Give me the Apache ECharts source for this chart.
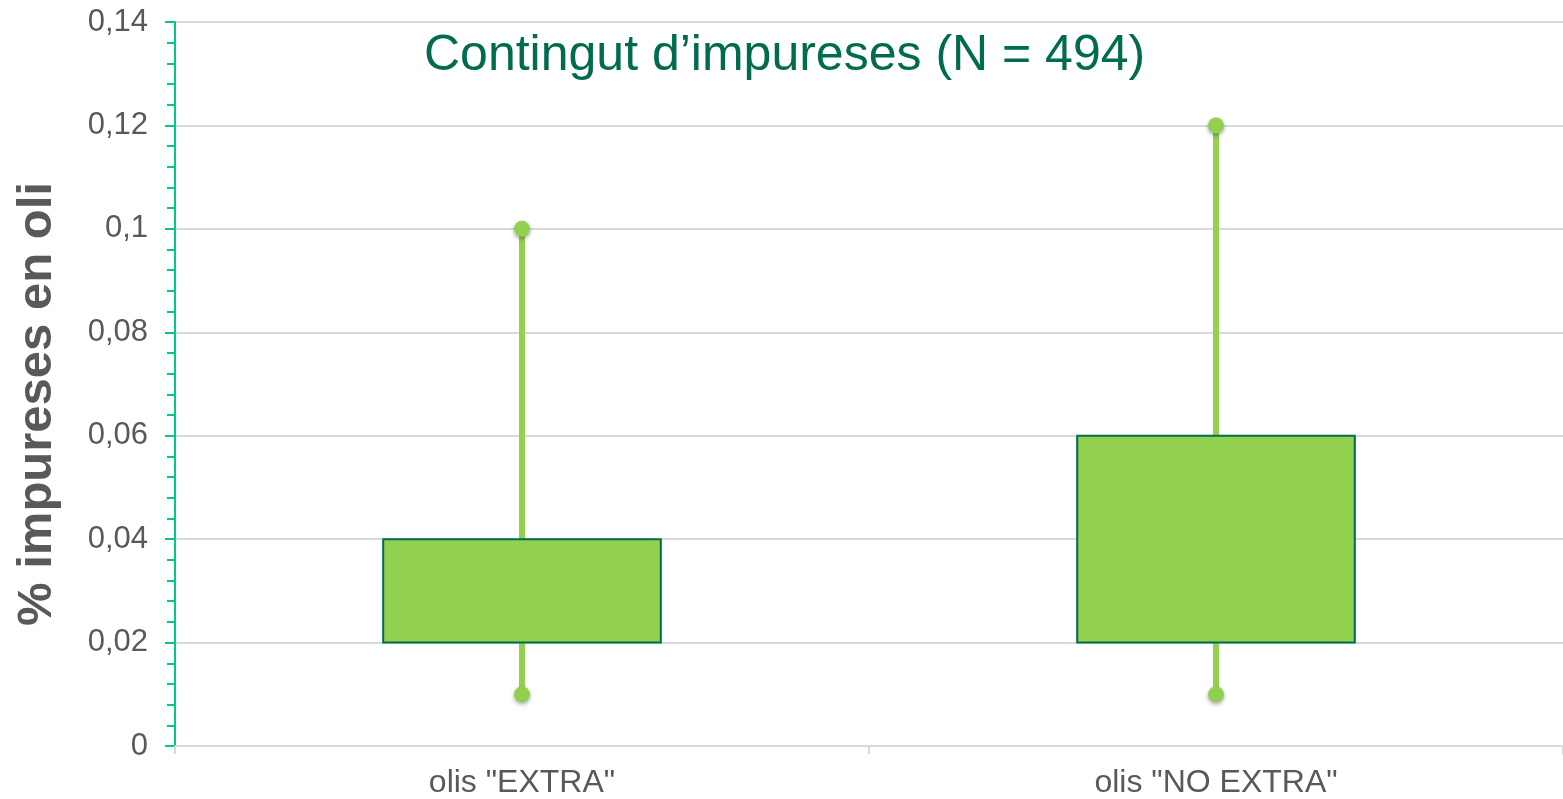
<!DOCTYPE html>
<html>
<head>
<meta charset="utf-8">
<title>Contingut d'impureses</title>
<script src="https://cdn.jsdelivr.net/npm/echarts@6/dist/echarts.min.js"></script>
<style>
  html, body { margin: 0; padding: 0; background: #fff; }
  #chart { width: 1563px; height: 799px; }
</style>
</head>
<body>
<div id="chart"></div>
<script>
// ── Data ──────────────────────────────────────────────────────────────────────
const categories = ['olis "EXTRA"', 'olis "NO EXTRA"'];
const minValues  = [0.01, 0.01];
const q1Values   = [0.02, 0.02];
const q3Values   = [0.04, 0.06];
const maxValues  = [0.10, 0.12];

// ── Styles ────────────────────────────────────────────────────────────────────
const green     = '#92D050';
const darkGreen = '#006B4F';
const teal      = '#00C990';
const grey      = '#D9D9D9';
const textGrey  = '#595959';
const font      = '"Liberation Sans", Arial, sans-serif';

const chart = echarts.init(document.getElementById('chart'), null, { renderer: 'canvas' });

// box + whisker drawn from the axis scales
function renderBox(params, api) {
  const idx  = api.value(0);
  const lo   = api.coord([idx, api.value(1)]);
  const q1   = api.coord([idx, api.value(2)]);
  const q3   = api.coord([idx, api.value(3)]);
  const hi   = api.coord([idx, api.value(4)]);
  const boxW = api.size([1, 0])[0] * 0.4;
  const x    = lo[0];
  const dotStyle = {
    fill: green,
    shadowBlur: 4, shadowOffsetY: 2, shadowColor: 'rgba(0,0,0,0.35)'
  };
  return {
    type: 'group',
    children: [
      { type: 'line', shape: { x1: x, y1: lo[1], x2: x, y2: hi[1] },
        style: { stroke: green, lineWidth: 6 } },
      { type: 'circle', shape: { cx: x, cy: lo[1], r: 8 }, style: dotStyle },
      { type: 'circle', shape: { cx: x, cy: hi[1], r: 8 }, style: dotStyle },
      { type: 'rect',
        shape: { x: x - boxW / 2, y: q3[1], width: boxW, height: q1[1] - q3[1] },
        style: { fill: green, stroke: darkGreen, lineWidth: 2 } }
    ]
  };
}

chart.setOption({
  backgroundColor: '#fff',
  animation: false,
  title: {
    text: 'Contingut d\u2019impureses (N = 494)',
    left: 419, top: 26,
    textStyle: { color: darkGreen, fontSize: 50, fontWeight: 'normal', fontFamily: font }
  },
  grid: { left: 175, right: 0, top: 22, bottom: 53, containLabel: false, outerBoundsMode: 'none' },
  xAxis: {
    type: 'category',
    data: categories,
    axisLine: { lineStyle: { color: grey, width: 2 } },
    axisTick: { show: true, length: 8, lineStyle: { color: grey, width: 2 } },
    axisLabel: { color: textGrey, fontSize: 32, fontFamily: font, margin: 21 },
    splitLine: { show: false }
  },
  yAxis: {
    type: 'value',
    min: 0, max: 0.14, interval: 0.02,
    name: '% impureses en oli',
    nameLocation: 'middle',
    nameGap: 113,
    nameTextStyle: {
      color: textGrey, fontSize: 49, fontWeight: 'bold', fontFamily: font,
      padding: [0, 40, 0, 0]
    },
    axisLine: { show: true, lineStyle: { color: teal, width: 2 } },
    axisTick: { show: true, length: 10, lineStyle: { color: teal, width: 2 } },
    minorTick: { show: true, splitNumber: 5, length: 8, lineStyle: { color: teal, width: 2 } },
    axisLabel: {
      color: textGrey, fontSize: 31, fontFamily: font, margin: 27,
      formatter: v => String(Number(v.toFixed(2))).replace('.', ',')
    },
    splitLine: { lineStyle: { color: grey, width: 2 } }
  },
  series: [{
    type: 'custom',
    renderItem: renderBox,
    encode: { x: 0, y: [1, 2, 3, 4] },
    data: categories.map((c, i) => [i, minValues[i], q1Values[i], q3Values[i], maxValues[i]]),
    z: 3
  }]
});
</script>
</body>
</html>
